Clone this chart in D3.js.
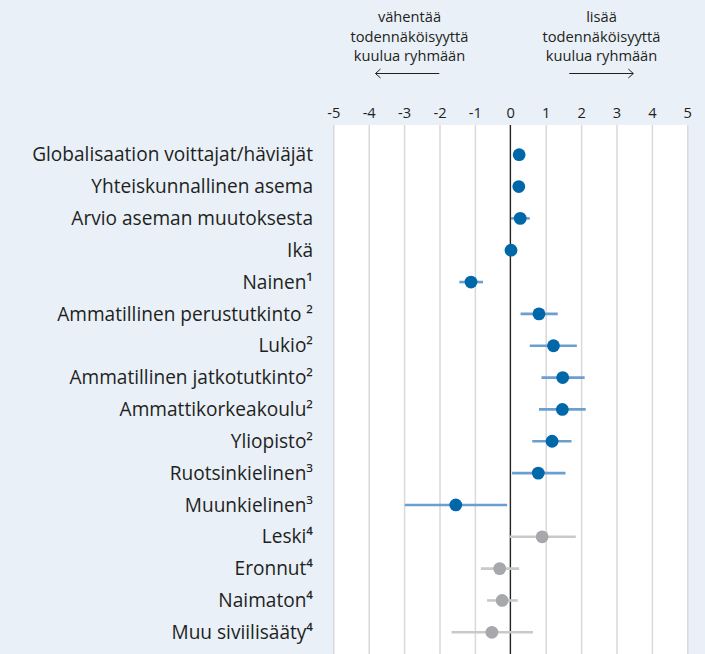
<!DOCTYPE html>
<html>
<head>
<meta charset="utf-8">
<script src="https://cdn.jsdelivr.net/npm/d3@7"></script>
<style>
  html, body { margin: 0; padding: 0; background: #e9f0f8; }
  svg { display: block; font-family: "Open Sans", sans-serif; }
</style>
</head>
<body>
<script>
// Chart data
var labels = [
  "Globalisaation voittajat/häviäjät",
  "Yhteiskunnallinen asema",
  "Arvio aseman muutoksesta",
  "Ikä",
  "Nainen¹",
  "Ammatillinen perustutkinto ²",
  "Lukio²",
  "Ammatillinen jatkotutkinto²",
  "Ammattikorkeakoulu²",
  "Yliopisto²",
  "Ruotsinkielinen³",
  "Muunkielinen³",
  "Leski⁴",
  "Eronnut⁴",
  "Naimaton⁴",
  "Muu siviilisääty⁴"
];
var estimates = [0.25, 0.24, 0.28, 0.02, -1.11, 0.81, 1.22, 1.48, 1.47, 1.18, 0.79, -1.54, 0.90, -0.30, -0.23, -0.52];
var lower     = [0.25, 0.24, 0.02, 0.02, -1.44, 0.29, 0.55, 0.88, 0.81, 0.62, 0.05, -2.98, -0.02, -0.83, -0.66, -1.66];
var upper     = [0.25, 0.24, 0.55, 0.02, -0.77, 1.34, 1.88, 2.10, 2.13, 1.73, 1.56, -0.09, 1.85, 0.25, 0.21, 0.64];
var significant = [true, true, true, true, true, true, true, true, true, true, true, true, false, false, false, false];
var tickValues = [-5, -4, -3, -2, -1, 0, 1, 2, 3, 4, 5];
var leftNote = ["vähentää", "todennäköisyyttä", "kuulua ryhmään"];
var rightNote = ["lisää", "todennäköisyyttä", "kuulua ryhmään"];

var W = 705, H = 654;
var panelTop = 125;

var svg = d3.select("body").append("svg")
    .attr("width", W)
    .attr("height", H);

var x = d3.scaleLinear().domain([-5, 5]).range([333.3, 687.3]);
var y = d3.scalePoint().domain(labels).range([154.7, 632.3]);

var rows = labels.map(function (d, i) {
  return { label: d, est: estimates[i], lo: lower[i], hi: upper[i], sig: significant[i] };
});

// font size that makes a text reach a given width
function fitSize(str, base, target) {
  var t = svg.append("text").attr("font-size", base).text(str);
  var w = t.node().getComputedTextLength();
  t.remove();
  return base * target / w;
}
var labelSize = fitSize(labels[0], 16, 281);
var noteSize = fitSize("todennäköisyyttä", 13, 118);

// white panel
svg.append("rect")
    .attr("x", x(-5))
    .attr("y", panelTop)
    .attr("width", x(5) - x(-5))
    .attr("height", H - panelTop)
    .attr("fill", "#fff");

// grid lines
svg.append("g")
    .attr("class", "grid")
    .attr("transform", "translate(0," + panelTop + ")")
    .call(d3.axisBottom(x).tickValues(tickValues).tickSize(H - panelTop).tickFormat(""))
    .call(function (g) { g.select(".domain").remove(); })
    .selectAll("line")
      .attr("stroke", "#d9d9d9")
      .attr("stroke-width", 1.5);

// zero line
svg.append("line")
    .attr("x1", x(0)).attr("x2", x(0))
    .attr("y1", panelTop).attr("y2", H)
    .attr("stroke", "#111")
    .attr("stroke-width", 1.2);

// tick labels on top
svg.append("g")
    .attr("transform", "translate(0,118)")
    .call(d3.axisTop(x).tickValues(tickValues).tickSize(0).tickPadding(0))
    .call(function (g) { g.select(".domain").remove(); })
    .selectAll("text")
      .attr("font-family", "Open Sans, sans-serif")
      .attr("font-size", noteSize)
      .attr("fill", "#231f20")
      .text(function (d) { return d; });

// row labels
svg.append("g")
    .selectAll("text")
    .data(rows)
    .enter().append("text")
      .attr("x", 313)
      .attr("y", function (d) { return y(d.label); })
      .attr("dy", "0.35em")
      .attr("text-anchor", "end")
      .attr("font-size", labelSize)
      .attr("fill", "#231f20")
      .text(function (d) { return d.label; });

// confidence intervals
svg.append("g")
    .selectAll("line")
    .data(rows)
    .enter().append("line")
      .attr("x1", function (d) { return x(d.lo); })
      .attr("x2", function (d) { return x(d.hi); })
      .attr("y1", function (d) { return y(d.label); })
      .attr("y2", function (d) { return y(d.label); })
      .attr("stroke", function (d) { return d.sig ? "#6a9fd0" : "#c9c9c9"; })
      .attr("stroke-width", 2.6);

// point estimates
svg.append("g")
    .selectAll("circle")
    .data(rows)
    .enter().append("circle")
      .attr("cx", function (d) { return x(d.est); })
      .attr("cy", function (d) { return y(d.label); })
      .attr("r", 6.4)
      .attr("fill", function (d) { return d.sig ? "#0068a9" : "#a7a8ab"; });

// notes above the axis
function note(lines, cx) {
  svg.append("g")
      .selectAll("text")
      .data(lines)
      .enter().append("text")
        .attr("x", cx)
        .attr("y", function (d, i) { return 22 + i * 19.5; })
        .attr("text-anchor", "middle")
        .attr("font-size", noteSize)
        .attr("fill", "#231f20")
        .text(function (d) { return d; });
}
note(leftNote, 409.5);
note(rightNote, 601.5);

// arrows
function arrow(x1, x2, yy) {
  var dir = x2 > x1 ? 1 : -1;
  var g = svg.append("g")
      .attr("fill", "none")
      .attr("stroke", "#231f20")
      .attr("stroke-width", 1);
  g.append("line").attr("x1", x1).attr("x2", x2).attr("y1", yy).attr("y2", yy);
  g.append("path")
      .attr("d", "M" + (x2 - dir * 5) + "," + (yy - 4.5) + "L" + x2 + "," + yy + "L" + (x2 - dir * 5) + "," + (yy + 4.5));
}
arrow(439.3, 375.5, 73.5);
arrow(569.3, 633.3, 73.5);
</script>
</body>
</html>
